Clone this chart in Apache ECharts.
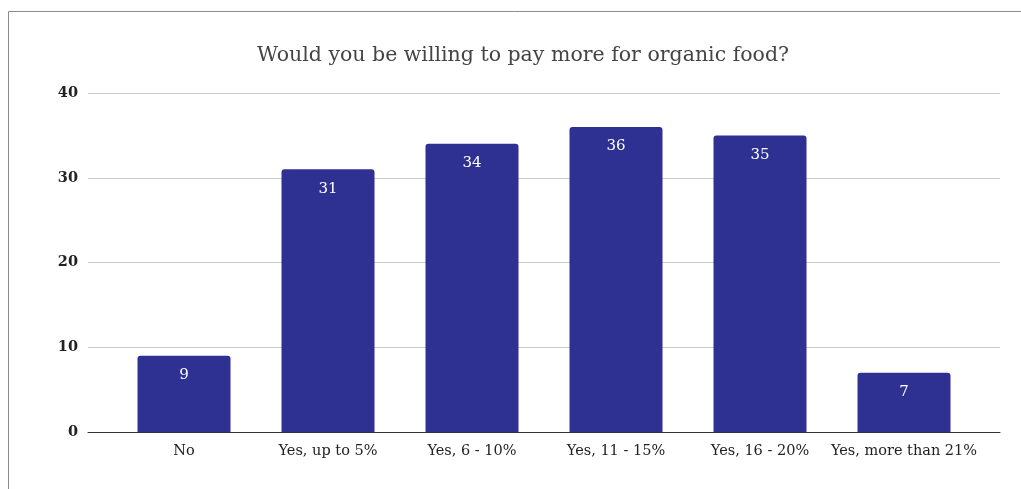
<!DOCTYPE html>
<html>
<head>
<meta charset="utf-8">
<script src="https://cdn.jsdelivr.net/npm/echarts@6/dist/echarts.min.js"></script>
<style>
  html, body { margin: 0; padding: 0; background: #fff; }
  #chart { width: 1021px; height: 489px; }
</style>
</head>
<body>
<div id="chart"></div>
<script>
// Survey answers and response counts
const titleText = 'Would you be willing to pay more for organic food?';
const categories = ['No', 'Yes, up to 5%', 'Yes, 6 - 10%', 'Yes, 11 - 15%', 'Yes, 16 - 20%', 'Yes, more than 21%'];
const responses = [9, 31, 34, 36, 35, 7];
const yTicks = { min: 0, max: 40, interval: 10 };

const serif = '"DejaVu Serif", Georgia, serif';
const chart = echarts.init(document.getElementById('chart'));

chart.setOption({
  animation: false,
  backgroundColor: '#fff',
  title: {
    text: titleText,
    left: 518,
    textAlign: 'center',
    top: 40,
    textStyle: { fontFamily: serif, fontSize: 20.5, fontWeight: 'normal', color: '#444' }
  },
  graphic: [{
    type: 'polyline',
    shape: { points: [[8.5, 489], [8.5, 11.5], [1021, 11.5]] },
    style: { stroke: '#8c8c8c', lineWidth: 1, fill: null },
    silent: true
  }],
  grid: [
    // full-width grid carrying the value scale, gridlines and baseline
    { left: 88, right: 21, top: 93, bottom: 57 },
    // inner grid holding the category bands
    { left: 112, right: 45, top: 93, bottom: 57 }
  ],
  xAxis: [
    {
      gridIndex: 0, type: 'value', min: 0, max: 1,
      axisLine: { show: true, onZero: false, lineStyle: { color: '#333', width: 1 } },
      axisTick: { show: false }, axisLabel: { show: false }, splitLine: { show: false }
    },
    {
      gridIndex: 1, type: 'category', data: categories,
      axisLine: { show: false }, axisTick: { show: false },
      axisLabel: { interval: 0, fontFamily: serif, fontSize: 14.5, color: '#222', margin: 12 }
    }
  ],
  yAxis: [
    {
      gridIndex: 0, type: 'value', min: yTicks.min, max: yTicks.max, interval: yTicks.interval,
      axisLine: { show: false }, axisTick: { show: false },
      axisLabel: { fontFamily: serif, fontSize: 14.5, fontWeight: 'bold', color: '#222', margin: 10 },
      splitLine: { lineStyle: { color: '#cccccc', width: 1 } }
    },
    {
      gridIndex: 1, type: 'value', min: yTicks.min, max: yTicks.max, interval: yTicks.interval,
      show: false, splitLine: { show: false }
    }
  ],
  series: [{
    type: 'bar',
    xAxisIndex: 1,
    yAxisIndex: 1,
    data: responses,
    barWidth: 93,
    itemStyle: { color: '#2e3192', borderRadius: [3, 3, 0, 0] },
    label: {
      show: true,
      position: 'insideTop',
      distance: 12,
      fontFamily: serif,
      fontSize: 15,
      color: '#fff'
    }
  }]
});
</script>
</body>
</html>
